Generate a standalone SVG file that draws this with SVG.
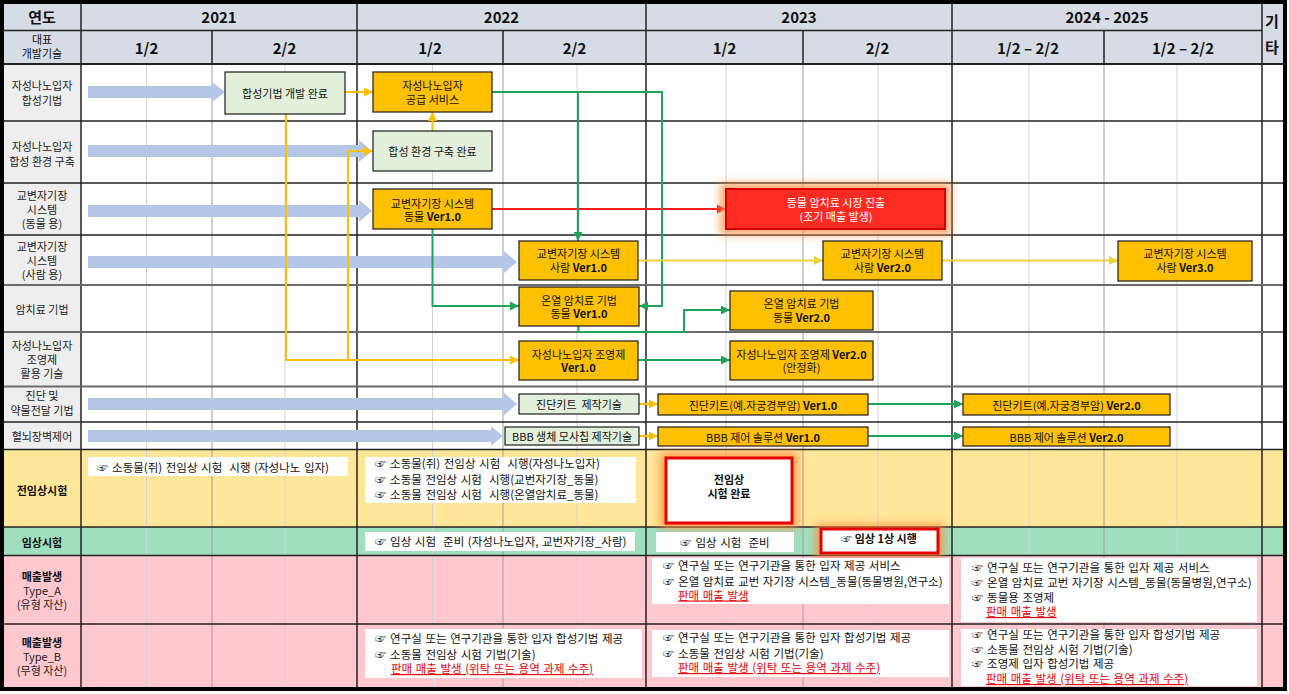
<svg xmlns="http://www.w3.org/2000/svg" width="1289" height="694" viewBox="0 0 1289 694">
<defs>
<style>
text{font-family:"Noto Sans CJK KR","Noto Sans",sans-serif;fill:#111;dominant-baseline:central}
.hd{font-size:15px;font-weight:700;text-anchor:middle}
.hs{font-size:11px;text-anchor:middle}
.lb{font-size:11px;text-anchor:middle;fill:#222}
.lbb{font-size:11px;font-weight:700;text-anchor:middle}
.bx{font-size:11px;text-anchor:middle}
.t{font-size:11.5px;word-spacing:1px}
.tc{font-size:11.5px;word-spacing:1px;text-anchor:middle}
.v{font-weight:700}
.rd{fill:#e8000b;text-decoration:underline}
.wt{fill:#fff}
.or{fill:#ffc000;stroke:#1c1c1c;stroke-width:1.2}
.gr{fill:#e2efda;stroke:#1c1c1c;stroke-width:1.2}
.wb{fill:#fff}
.rb{fill:#fff;stroke:#e60000;stroke-width:3}
.ba{fill:#b4c7e7}
.g{stroke:#1ea55b;stroke-width:2;fill:none;marker-end:url(#ag)}
.y{stroke:#ffc000;stroke-width:2;fill:none;marker-end:url(#ay)}
.yl{stroke:#ead33c;stroke-width:2;fill:none;marker-end:url(#ayl)}
.r{stroke:#ff1a1a;stroke-width:2;fill:none;marker-end:url(#ar)}
.q{stroke:#d2d2d2;stroke-width:1}
.h{stroke:#a0a0a0;stroke-width:1}
.d{stroke:#222;stroke-width:1.5}
.m{stroke:#6b6b6b;stroke-width:2}
.gl{fill:#ff8a3a;opacity:.75;filter:url(#blur)}
</style>
<marker id="ag" viewBox="0 0 10 10" refX="10" refY="5" markerWidth="9" markerHeight="9" markerUnits="userSpaceOnUse" orient="auto"><path d="M0,0 L10,5 L0,10 z" fill="#1ea55b"/></marker>
<marker id="ay" viewBox="0 0 10 10" refX="10" refY="5" markerWidth="9" markerHeight="9" markerUnits="userSpaceOnUse" orient="auto"><path d="M0,0 L10,5 L0,10 z" fill="#ffc000"/></marker>
<marker id="ayl" viewBox="0 0 10 10" refX="10" refY="5" markerWidth="9" markerHeight="9" markerUnits="userSpaceOnUse" orient="auto"><path d="M0,0 L10,5 L0,10 z" fill="#ead33c"/></marker>
<marker id="ar" viewBox="0 0 10 10" refX="10" refY="5" markerWidth="9" markerHeight="9" markerUnits="userSpaceOnUse" orient="auto"><path d="M0,0 L10,5 L0,10 z" fill="#ff1a1a"/></marker>
<filter id="blur" x="-30%" y="-60%" width="160%" height="220%"><feGaussianBlur stdDeviation="4"/></filter>
</defs>

<g id="grid">
<rect x="0" y="0" width="1289" height="694" fill="#fff"/>
<rect x="3" y="3" width="1280" height="61" fill="#d6dce5"/>
<rect x="3" y="64" width="78" height="385" fill="#eeeeee"/>
<rect x="3" y="449" width="1280" height="78" fill="#ffe699"/>
<rect x="3" y="527" width="1280" height="28" fill="#a0dfbe"/>
<rect x="3" y="555" width="1280" height="133" fill="#ffc7ce"/>
<g>
<line class="q" x1="146.5" y1="64" x2="146.5" y2="688"/>
<line class="q" x1="285" y1="64" x2="285" y2="688"/>
<line class="q" x1="432.5" y1="64" x2="432.5" y2="688"/>
<line class="q" x1="577" y1="64" x2="577" y2="688"/>
<line class="q" x1="726" y1="64" x2="726" y2="688"/>
<line class="q" x1="878" y1="64" x2="878" y2="688"/>
<line class="q" x1="1029" y1="64" x2="1029" y2="688"/>
<line class="q" x1="1177" y1="64" x2="1177" y2="688"/>
<line class="h" x1="212" y1="64" x2="212" y2="688"/>
<line class="h" x1="503" y1="64" x2="503" y2="688"/>
<line class="h" x1="803" y1="64" x2="803" y2="688"/>
<line class="h" x1="1104" y1="64" x2="1104" y2="688"/>
</g>
<g>
<line class="d" x1="212" y1="30" x2="212" y2="64"/>
<line class="d" x1="503" y1="30" x2="503" y2="64"/>
<line class="d" x1="803" y1="30" x2="803" y2="64"/>
<line class="d" x1="1104" y1="30" x2="1104" y2="64"/>
<line class="d" x1="81" y1="3" x2="81" y2="688"/>
<line class="d" x1="357" y1="3" x2="357" y2="688"/>
<line class="d" x1="646" y1="3" x2="646" y2="688"/>
<line class="d" x1="952" y1="3" x2="952" y2="688"/>
<line class="d" x1="1262" y1="3" x2="1262" y2="688"/>
<line class="d" x1="3" y1="30.5" x2="1262" y2="30.5"/>
<line stroke="#222" stroke-width="2" x1="3" y1="64" x2="1283" y2="64"/>
<line class="d" x1="3" y1="121" x2="1283" y2="121"/>
<line class="d" x1="3" y1="183" x2="1283" y2="183"/>
<line class="d" x1="3" y1="235" x2="1283" y2="235"/>
<line class="m" x1="3" y1="285" x2="1283" y2="285"/>
<line class="m" x1="3" y1="332" x2="1283" y2="332"/>
<line class="m" x1="3" y1="386.5" x2="1283" y2="386.5"/>
<line class="d" x1="3" y1="422" x2="1283" y2="422"/>
<line class="d" x1="3" y1="449.5" x2="1283" y2="449.5"/>
<line class="d" x1="3" y1="527" x2="1283" y2="527"/>
<line class="d" x1="3" y1="555.5" x2="1283" y2="555.5"/>
<line class="d" x1="3" y1="624" x2="1283" y2="624"/>
</g>
<rect x="2" y="2" width="1283" height="687" fill="none" stroke="#000" stroke-width="4"/>
</g>

<g id="header">
<text class="hd" x="42" y="16.5" font-size="14">연도</text>
<text class="hs" x="42" y="39">대표</text>
<text class="hs" x="42" y="53">개발기술</text>
<text class="hd" x="219" y="16.5">2021</text>
<text class="hd" x="501.5" y="16.5">2022</text>
<text class="hd" x="799" y="16.5">2023</text>
<text class="hd" x="1107" y="16.5">2024 - 2025</text>
<text class="hd" x="1272" y="20" font-weight="400">기</text>
<text class="hd" x="1272" y="46" font-weight="400">타</text>
<text class="hd" x="146.5" y="47.5">1/2</text>
<text class="hd" x="284.5" y="47.5">2/2</text>
<text class="hd" x="430" y="47.5">1/2</text>
<text class="hd" x="574.5" y="47.5">2/2</text>
<text class="hd" x="724.5" y="47.5">1/2</text>
<text class="hd" x="877.5" y="47.5">2/2</text>
<text class="hd" x="1028" y="47.5">1/2 – 2/2</text>
<text class="hd" x="1183" y="47.5">1/2 – 2/2</text>
</g>

<g id="row-labels">
<text class="lb" x="42" y="85">자성나노입자</text>
<text class="lb" x="42" y="100">합성기법</text>
<text class="lb" x="42" y="146">자성나노입자</text>
<text class="lb" x="42" y="160.5">합성 환경 구축</text>
<text class="lb" x="42" y="195">교변자기장</text>
<text class="lb" x="42" y="209">시스템</text>
<text class="lb" x="42" y="223">(동물 용)</text>
<text class="lb" x="42" y="246">교변자기장</text>
<text class="lb" x="42" y="260">시스템</text>
<text class="lb" x="42" y="274">(사람 용)</text>
<text class="lb" x="42" y="308.5">암치료 기법</text>
<text class="lb" x="42" y="345">자성나노입자</text>
<text class="lb" x="42" y="359">조영제</text>
<text class="lb" x="42" y="373">활용 기술</text>
<text class="lb" x="42" y="395">진단 및</text>
<text class="lb" x="42" y="410">약물전달 기법</text>
<text class="lb" x="42" y="435.5">혈뇌장벽제어</text>
<text class="lbb" x="42" y="490">전임상시험</text>
<text class="lbb" x="42" y="541.5">임상시험</text>
<text class="lbb" x="42" y="576">매출발생</text>
<text class="lb" x="42" y="590">Type_A</text>
<text class="lb" x="42" y="604">(유형 자산)</text>
<text class="lbb" x="42" y="642">매출발생</text>
<text class="lb" x="42" y="656">Type_B</text>
<text class="lb" x="42" y="670">(무형 자산)</text>
</g>

<g id="progress-arrows">
<polygon class="ba" points="88,86 212,86 212,82 225,92 212,102 212,98 88,98"/>
<polygon class="ba" points="88,145 359,145 359,140 372,151 359,162 359,157 88,157"/>
<polygon class="ba" points="88,205 359,205 359,200 372,211 359,222 359,217 88,217"/>
<polygon class="ba" points="88,256 504,256 504,251 517,262 504,273 504,268 88,268"/>
<polygon class="ba" points="88,398 504,398 504,393 517,404 504,415 504,410 88,410"/>
<polygon class="ba" points="88,430 491,430 491,426 503,436 491,446 491,442 88,442"/>
</g>

<g id="connectors">
<path class="y" d="M345,92 H373"/>
<path class="y" d="M432.5,131 V112"/>
<path class="y" d="M348,360 V151 H373"/>
<path class="y" d="M286,114 V360 H519"/>
<path class="r" d="M492,209 H726"/>
<path class="g" d="M492,92 H662 V306 H639"/>
<path class="g" d="M578,92 V241"/>
<path class="g" d="M432.5,229 V306 H519"/>
<path class="g" d="M578.5,326 V332 H684 V310 H730"/>
<path class="g" d="M638,360 H730"/>
<path class="yl" d="M638,260.5 H823"/>
<path class="yl" d="M942,260.5 H1118"/>
<path class="y" d="M639,404 H658"/>
<path class="y" d="M639,436 H658"/>
<path class="g" d="M868,404 H963"/>
<path class="g" d="M868,436 H963"/>
</g>

<g id="n-synthesis-done">
<rect class="gr" x="225" y="72" width="120" height="42"/>
<text class="bx" x="285" y="93">합성기법 개발 완료</text>
</g>
<g id="n-supply-service">
<rect class="or" x="373" y="72" width="119" height="40"/>
<text class="bx" x="432.5" y="85">자성나노입자</text>
<text class="bx" x="432.5" y="99">공급 서비스</text>
</g>
<g id="n-env-done">
<rect class="gr" x="373" y="131" width="119" height="40"/>
<text class="bx" x="432.5" y="151">합성 환경 구축 완료</text>
</g>
<g id="n-amf-animal-v1">
<rect class="or" x="373" y="189" width="119" height="40"/>
<text class="bx" x="432.5" y="202.5">교변자기장 시스템</text>
<text class="bx" x="432.5" y="216">동물 <tspan class="v">Ver1.0</tspan></text>
</g>
<g id="n-animal-market">
<rect class="gl" x="720" y="183" width="231" height="52"/>
<rect x="726" y="189" width="219" height="40" fill="#ff2b22" stroke="#d40000" stroke-width="2"/>
<text class="bx wt" x="836" y="202">동물 암치료 시장 진출</text>
<text class="bx wt" x="836" y="216">(조기 매출 발생)</text>
</g>
<g id="n-amf-human-v1">
<rect class="or" x="519" y="241" width="119" height="39"/>
<text class="bx" x="578.5" y="253">교변자기장 시스템</text>
<text class="bx" x="578.5" y="266.5">사람 <tspan class="v">Ver1.0</tspan></text>
</g>
<g id="n-amf-human-v2">
<rect class="or" x="823" y="241" width="119" height="39"/>
<text class="bx" x="882.5" y="253">교변자기장 시스템</text>
<text class="bx" x="882.5" y="266.5">사람 <tspan class="v">Ver2.0</tspan></text>
</g>
<g id="n-amf-human-v3">
<rect class="or" x="1118" y="241" width="134" height="40"/>
<text class="bx" x="1185" y="253">교변자기장 시스템</text>
<text class="bx" x="1185" y="266.5">사람 <tspan class="v">Ver3.0</tspan></text>
</g>
<g id="n-hyperthermia-v1">
<rect class="or" x="519" y="287" width="120" height="39"/>
<text class="bx" x="579" y="299.5">온열 암치료 기법</text>
<text class="bx" x="579" y="313">동물 <tspan class="v">Ver1.0</tspan></text>
</g>
<g id="n-hyperthermia-v2">
<rect class="or" x="730" y="291" width="143" height="39"/>
<text class="bx" x="801.5" y="303">온열 암치료 기법</text>
<text class="bx" x="801.5" y="317">동물 <tspan class="v">Ver2.0</tspan></text>
</g>
<g id="n-contrast-v1">
<rect class="or" x="519" y="341" width="119" height="39"/>
<text class="bx" x="578.5" y="353.5">자성나노입자 조영제</text>
<text class="bx v" x="578.5" y="367">Ver1.0</text>
</g>
<g id="n-contrast-v2">
<rect class="or" x="730" y="341" width="143" height="39"/>
<text class="bx" x="801.5" y="353.5">자성나노입자 조영제 <tspan class="v">Ver2.0</tspan></text>
<text class="bx" x="801.5" y="367">(안정화)</text>
</g>
<g id="n-kit-tech">
<rect class="gr" x="519" y="394" width="120" height="20"/>
<text class="bx" x="579" y="404" xml:space="preserve">진단키트  제작기술</text>
</g>
<g id="n-kit-v1">
<rect class="or" x="658" y="394" width="210" height="21"/>
<text class="bx" x="763" y="404.5">진단키트(예.자궁경부암) <tspan class="v">Ver1.0</tspan></text>
</g>
<g id="n-kit-v2">
<rect class="or" x="963" y="394" width="207" height="21"/>
<text class="bx" x="1066.5" y="404.5">진단키트(예.자궁경부암) <tspan class="v">Ver2.0</tspan></text>
</g>
<g id="n-bbb-chip">
<rect class="gr" x="505" y="427" width="134" height="18"/>
<text class="bx" x="572" y="436">BBB 생체 모사칩 제작기술</text>
</g>
<g id="n-bbb-v1">
<rect class="or" x="658" y="427" width="210" height="19"/>
<text class="bx" x="763" y="436.5">BBB 제어 솔루션 <tspan class="v">Ver1.0</tspan></text>
</g>
<g id="n-bbb-v2">
<rect class="or" x="963" y="427" width="207" height="19"/>
<text class="bx" x="1066.5" y="436.5">BBB 제어 솔루션 <tspan class="v">Ver2.0</tspan></text>
</g>

<g id="n-preclinical-2021">
<rect class="wb" x="88" y="457" width="260" height="19"/>
<text class="t" x="97" y="466.5" xml:space="preserve">☞ 소동물(쥐) 전임상 시험  시행 (자성나노 입자)</text>
</g>
<g id="n-preclinical-2022">
<rect class="wb" x="365" y="457" width="271" height="46"/>
<text class="t" x="375" y="463" xml:space="preserve">☞ 소동물(쥐) 전임상 시험  시행(자성나노입자)</text>
<text class="t" x="375" y="478.5" xml:space="preserve">☞ 소동물 전임상 시험  시행(교번자기장_동물)</text>
<text class="t" x="375" y="493.5" xml:space="preserve">☞ 소동물 전임상 시험  시행(온열암치료_동물)</text>
</g>
<g id="n-preclinical-done">
<rect class="gl" x="660" y="452" width="138" height="77"/>
<rect class="rb" x="666" y="458" width="126" height="65"/>
<text class="bx v" x="729" y="478.5">전임상</text>
<text class="bx v" x="729" y="493">시험 완료</text>
</g>
<g id="n-clinical-prep-2022">
<rect class="wb" x="365" y="532" width="270" height="19"/>
<text class="t" x="375" y="541" xml:space="preserve">☞ 임상 시험  준비 (자성나노입자, 교번자기장_사람)</text>
</g>
<g id="n-clinical-prep-2023">
<rect class="wb" x="656" y="532" width="138" height="20"/>
<text class="tc" x="725" y="541.5" xml:space="preserve">☞ 임상 시험  준비</text>
</g>
<g id="n-clinical-phase1">
<rect class="gl" x="815" y="524" width="129" height="34"/>
<rect class="rb" x="821" y="529" width="117" height="24"/>
<text class="bx v" x="879" y="538">☞ 임상 1상 시행</text>
</g>

<g id="n-revenue-a-2023">
<rect class="wb" x="652" y="558" width="297" height="46"/>
<text class="t" x="663" y="564.5">☞ 연구실 또는 연구기관을 통한 입자 제공 서비스</text>
<text class="t" x="663" y="581">☞ 온열 암치료 교번 자기장 시스템_동물(동물병원,연구소)</text>
<text class="t rd" x="678" y="594.5">판매 매출 발생</text>
</g>
<g id="n-revenue-a-2024">
<rect class="wb" x="961" y="558" width="296" height="64"/>
<text class="t" x="972" y="566.5">☞ 연구실 또는 연구기관을 통한 입자 제공 서비스</text>
<text class="t" x="972" y="582">☞ 온열 암치료 교번 자기장 시스템_동물(동물병원,연구소)</text>
<text class="t" x="972" y="596.5">☞ 동물용 조영제</text>
<text class="t rd" x="986" y="611">판매 매출 발생</text>
</g>
<g id="n-revenue-b-2022">
<rect class="wb" x="365" y="629" width="277" height="49"/>
<text class="t" x="375" y="638">☞ 연구실 또는 연구기관을 통한 입자 합성기법 제공</text>
<text class="t" x="375" y="654">☞ 소동물 전임상 시험 기법(기술)</text>
<text class="t rd" x="391" y="668">판매 매출 발생 (위탁 또는 용역 과제 수주)</text>
</g>
<g id="n-revenue-b-2023">
<rect class="wb" x="652" y="630" width="297" height="47"/>
<text class="t" x="663" y="637">☞ 연구실 또는 연구기관을 통한 입자 합성기법 제공</text>
<text class="t" x="663" y="652.5">☞ 소동물 전임상 시험 기법(기술)</text>
<text class="t rd" x="678" y="667">판매 매출 발생 (위탁 또는 용역 과제 수주)</text>
</g>
<g id="n-revenue-b-2024">
<rect class="wb" x="961" y="629" width="296" height="57"/>
<text class="t" x="972" y="634">☞ 연구실 또는 연구기관을 통한 입자 합성기법 제공</text>
<text class="t" x="972" y="649">☞ 소동물 전임상 시험 기법(기술)</text>
<text class="t" x="972" y="662.5">☞ 조영제 입자 합성기법 제공</text>
<text class="t rd" x="986" y="678">판매 매출 발생 (위탁 또는 용역 과제 수주)</text>
</g>
</svg>
